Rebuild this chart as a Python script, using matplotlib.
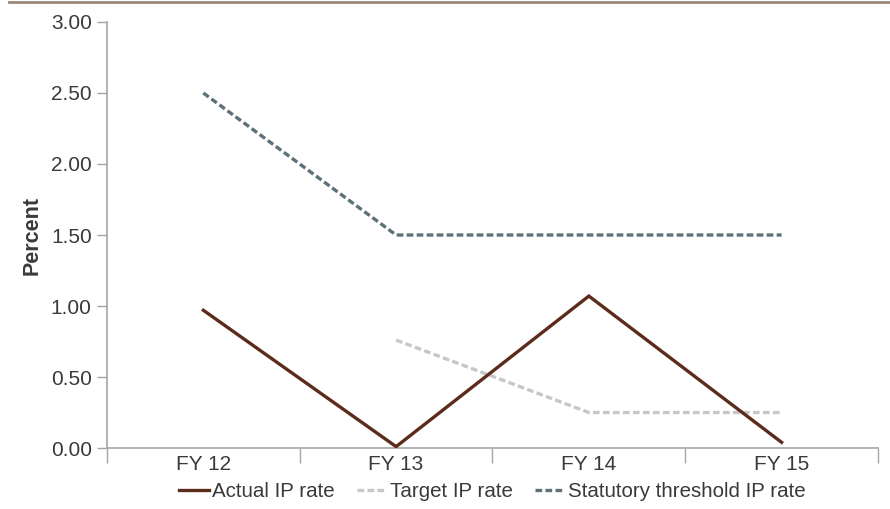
import matplotlib.pyplot as plt
from matplotlib.lines import Line2D

# chart data
years = ['FY 12', 'FY 13', 'FY 14', 'FY 15']
actual_rate = [0.97, 0.01, 1.07, 0.04]
target_rate = [None, 0.76, 0.25, 0.25]
statutory_rate = [2.50, 1.50, 1.50, 1.50]
y_ticks = [0.0, 0.5, 1.0, 1.5, 2.0, 2.5, 3.0]

plt.rcParams['font.family'] = ['Liberation Sans', 'DejaVu Sans']
text_color = '#3a3a3a'
axis_color = '#a6a6a6'

fig = plt.figure(figsize=(8.9, 5.09), dpi=100)
ax = fig.add_axes([0.1202, 0.1198, 0.8663, 0.837])

x = list(range(len(years)))
tx = [i for i, v in zip(x, target_rate) if v is not None]
tv = [v for v in target_rate if v is not None]

ax.plot(x, actual_rate, color='#5b2c1c', lw=2.4, label='Actual IP rate',
        solid_joinstyle='miter', zorder=3)
ax.plot(tx, tv, color='#c5c7c9', lw=2.4, ls=(0, (2.0, 1.0)),
        label='Target IP rate', zorder=2)
ax.plot(x, statutory_rate, color='#5e7178', lw=2.4, ls=(0, (2.0, 1.0)),
        label='Statutory threshold IP rate', zorder=2)

ax.set_xlim(-0.5, 3.5)
ax.set_ylim(0, 3.0)
ax.set_yticks(y_ticks)
ax.set_yticklabels(['%.2f' % v for v in y_ticks])
ax.set_xticks(x)
ax.set_xticklabels(years)

# category separators below the x axis
ax.set_xticks([-0.5, 0.5, 1.5, 2.5, 3.5], minor=True)
ax.tick_params(axis='x', which='major', length=0, pad=5, labelsize=15,
               labelcolor=text_color)
ax.tick_params(axis='x', which='minor', length=11, color=axis_color, width=1)
ax.tick_params(axis='y', length=7, color=axis_color, width=1, pad=4,
               labelsize=15, labelcolor=text_color)

for side in ['top', 'right']:
    ax.spines[side].set_visible(False)
for side in ['left', 'bottom']:
    ax.spines[side].set_color(axis_color)
    ax.spines[side].set_linewidth(1.2)

ax.set_ylabel('Percent', fontsize=15.5, fontweight='bold', color=text_color,
              labelpad=6)

ax.legend(loc='center', bbox_to_anchor=(0.5, -0.103), ncol=3,
          frameon=False, fontsize=14.8, handlelength=1.45, handletextpad=0.15,
          columnspacing=1.1, labelcolor=text_color)

# rule across the top of the figure
fig.add_artist(Line2D([0.01, 1.0], [0.997, 0.997], transform=fig.transFigure,
                      color='#9b877b', lw=2))

fig.savefig('out.png', dpi=100)
